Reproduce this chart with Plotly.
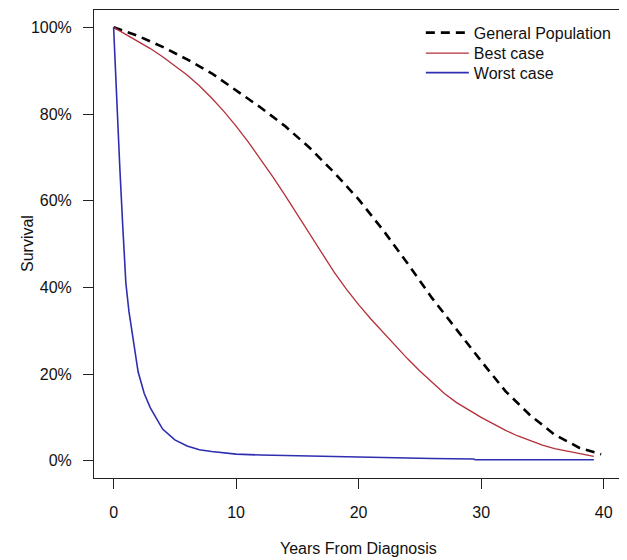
import plotly.graph_objects as go

# --- Data ---
gen_years = [0, 2, 4, 6, 8, 10, 12, 14, 16, 18, 20, 22, 24, 26, 28, 30, 32, 34, 36, 38, 39.8]
gen_surv = [100, 98, 95.5, 92.6, 89.4, 85.5, 81.5, 77.2, 72.2, 66.5, 60.3, 53.2, 45.5, 37.5, 30.2, 23, 16, 10.5, 6, 3, 1.5]

best_years = [0, 1, 2, 3, 4, 5, 6, 7, 8, 9, 10, 11, 12, 13, 14, 15, 16, 17, 18, 19, 20,
              21, 22, 23, 24, 25, 26, 27, 28, 29, 30, 31, 32, 33, 34, 35, 36, 37, 38, 39.2]
best_surv = [100, 98.4, 96.8, 95.1, 93.2, 91.2, 89.0, 86.5, 83.7, 80.6, 77.2, 73.5, 69.6, 65.5, 61.2,
             56.8, 52.3, 47.8, 43.5, 39.6, 36, 32.7, 29.6, 26.5, 23.5, 20.7, 18, 15.5, 13.4, 11.6, 10,
             8.5, 7, 5.7, 4.6, 3.6, 2.8, 2.2, 1.6, 1.0]

worst_years = [0, 0.25, 0.5, 0.75, 1, 1.25, 1.5, 2, 2.5, 3, 4, 5, 6, 7, 8, 10, 12, 15, 18, 22, 26, 29.4, 29.5, 39.2]
worst_surv = [100, 82, 68, 54, 41, 34.5, 29.5, 20.5, 15.5, 12.2, 7.3, 4.8, 3.4, 2.5, 2.1, 1.5, 1.3, 1.1, 0.9, 0.7, 0.5, 0.4, 0.2, 0.2]

x_ticks = [0, 10, 20, 30, 40]
y_ticks = [0, 20, 40, 60, 80, 100]
y_tick_labels = ["0%", "20%", "40%", "60%", "80%", "100%"]

FONT = "Liberation Sans, Arial, Helvetica, sans-serif"
TXT = "#111111"

fig = go.Figure()
fig.add_trace(go.Scatter(x=gen_years, y=gen_surv, mode="lines", name="General Population",
                         line=dict(color="#000000", width=2.6, dash="9px,6px"), legend="legend"))
fig.add_trace(go.Scatter(x=best_years, y=best_surv, mode="lines", name="Best case",
                         line=dict(color="#b3303a", width=1.3), legend="legend2"))
fig.add_trace(go.Scatter(x=worst_years, y=worst_surv, mode="lines", name="Worst case",
                         line=dict(color="#2e2eb0", width=1.6), legend="legend3"))

axis_common = dict(showgrid=False, zeroline=False, showline=True, mirror=True,
                   linecolor="#222222", linewidth=1, ticks="outside", ticklen=10,
                   tickcolor="#222222", tickwidth=1,
                   tickfont=dict(family=FONT, size=16, color=TXT))

leg_common = dict(x=0.619, xanchor="left", yanchor="middle", bgcolor="rgba(0,0,0,0)",
                  borderwidth=0, itemwidth=43, font=dict(family=FONT, size=16, color=TXT))

fig.update_layout(
    width=619, height=552,
    margin=dict(l=86, r=5, t=2, b=82),
    paper_bgcolor="white", plot_bgcolor="white",
    font=dict(family=FONT, size=16, color=TXT),
    showlegend=True,
    legend=dict(y=0.9515, **leg_common),
    legend2=dict(y=0.9075, **leg_common),
    legend3=dict(y=0.866, **leg_common),
    xaxis=dict(range=[-1.6, 41.5], tickvals=x_ticks, ticklabelstandoff=10, **axis_common),
    yaxis=dict(range=[-4, 104], tickvals=y_ticks, ticktext=y_tick_labels,
               ticklabelstandoff=8, **axis_common),
    annotations=[
        dict(text="Years From Diagnosis", xref="paper", yref="paper", x=0.5, y=0,
             xanchor="center", yanchor="middle", yshift=-70, showarrow=False,
             font=dict(family=FONT, size=16, color=TXT)),
        dict(text="Survival", xref="paper", yref="paper", x=0, y=0.5,
             xanchor="center", yanchor="middle", xshift=-67, textangle=-90,
             showarrow=False, font=dict(family=FONT, size=16, color=TXT)),
    ],
)

fig.write_html("out.html")
